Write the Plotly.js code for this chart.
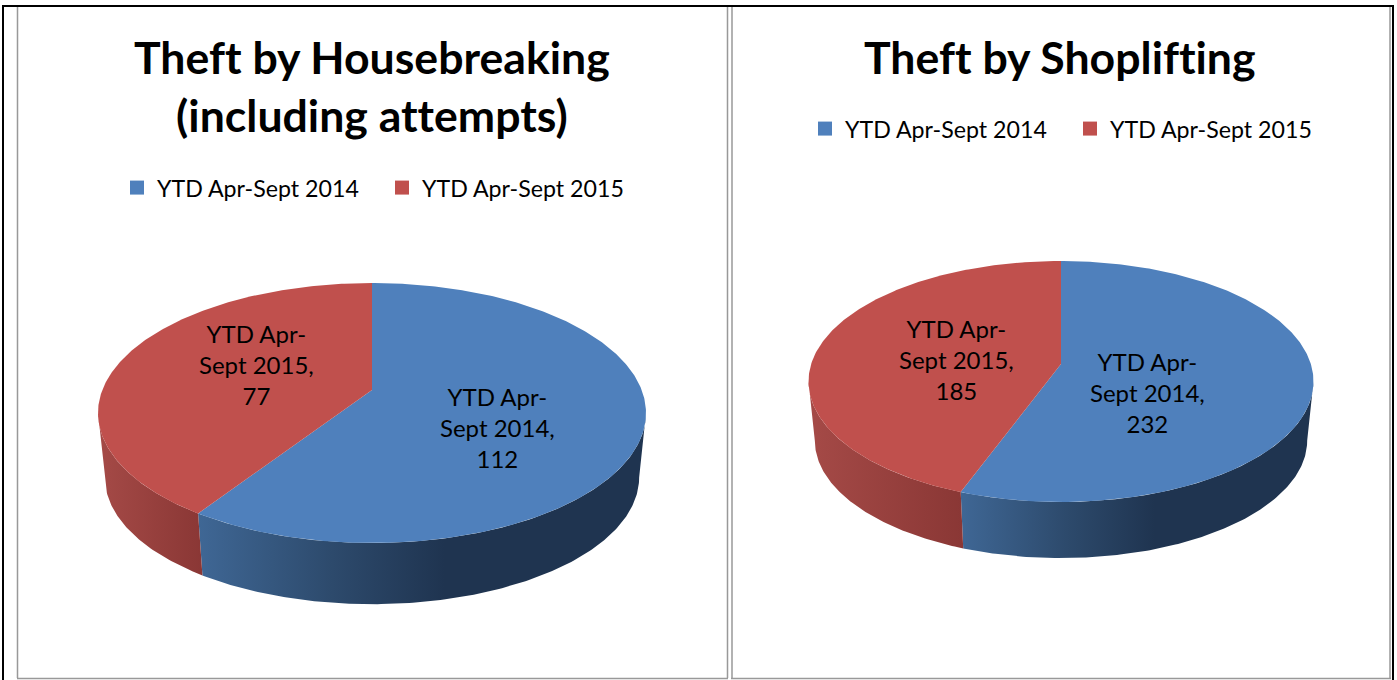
<!DOCTYPE html>
<html>
<head>
<meta charset="utf-8">
<script src="https://cdn.plot.ly/plotly-3.0.1.min.js"></script>
<style>html,body{margin:0;padding:0;background:#fff;overflow:hidden}
svg text{font-variant-ligatures:none !important}</style>
</head>
<body>
<div id="chart" style="width:1397px;height:680px"></div>
<script>
// ---- data ----
const categories = ['YTD Apr-Sept 2014', 'YTD Apr-Sept 2015'];
const housebreakingValues = [112, 77];
const shopliftingValues = [232, 185];
const housebreakingTitle = 'Theft by Housebreaking<br>(including attempts)';
const shopliftingTitle = 'Theft by Shoplifting';

// ---- colours ----
const topColors = ['#4F80BC', '#C0504D'];
const sideScales = [
  [[0, '#3F6795'], [0.3, '#2D4A6C'], [0.55, '#1F3450'], [1, '#1F3450']],
  [[0, '#A54A47'], [1, '#8A3735']]
];

// ---- geometry of each perspective pie (pixel-scale axes) ----
const pies = [
  {values: housebreakingValues, cx: 372, cy: 390, back: 107, front: 153, halfWidth: 274, depth: 65, shrink: 0.975},
  {values: shopliftingValues, cx: 1061, cy: 364, back: 103, front: 138, halfWidth: 252.5, depth: 59.5, shrink: 0.975}
];

function projector(p) {
  const k = (p.front / p.back - 1) / (p.front / p.back + 1);
  const A = p.back * (1 + k);
  const B = p.halfWidth * Math.sqrt(1 - k * k);
  return {
    k,
    at(t, lower) {
      const d = 1 + k * Math.cos(t), s = lower ? p.shrink : 1;
      return [p.cx + s * B * Math.sin(t) / d, p.cy + (lower ? p.depth : 0) - s * A * Math.cos(t) / d];
    }
  };
}
function arc(pr, t0, t1, lower) {
  const n = Math.max(2, Math.ceil(Math.abs(t1 - t0) * 90));
  const out = [];
  for (let i = 0; i <= n; i++) out.push(pr.at(t0 + (t1 - t0) * i / n, lower));
  return out;
}
function poly(points, extra) {
  return Object.assign({
    type: 'scatter', mode: 'lines', x: points.map(q => q[0]), y: points.map(q => q[1]),
    fill: 'toself', line: {width: 0}, showlegend: false, hoverinfo: 'skip'
  }, extra);
}

const traces = [];
pies.forEach(p => {
  const pr = projector(p);
  const total = p.values[0] + p.values[1];
  const tb = 2 * Math.PI * p.values[0] / total;
  const tr = Math.acos(-pr.k), tl = 2 * Math.PI - tr;
  // visible rim, widest point to slice boundary to widest point
  traces.push(poly(arc(pr, tr, tb).concat(arc(pr, tb, tr, true)), {fillgradient: {type: 'horizontal', colorscale: sideScales[0]}}));
  traces.push(poly(arc(pr, tb, tl).concat(arc(pr, tl, tb, true)), {fillgradient: {type: 'horizontal', colorscale: sideScales[1]}}));
  // top faces
  traces.push(poly([[p.cx, p.cy]].concat(arc(pr, 0, tb), [[p.cx, p.cy]]), {fillcolor: topColors[0]}));
  traces.push(poly([[p.cx, p.cy]].concat(arc(pr, tb, 2 * Math.PI), [[p.cx, p.cy]]), {fillcolor: topColors[1]}));
});

// legend entries
['legend', 'legend2'].forEach(lg => {
  categories.forEach((c, i) => traces.push({
    type: 'scatter', mode: 'markers', x: [null], y: [null], name: c, legend: lg,
    marker: {symbol: 'square', size: 14, color: topColors[i]}, hoverinfo: 'skip'
  }));
});

const FONT = 'Lato, "Open Sans", sans-serif';
function sliceLabel(i, v) {
  return categories[i].replace('Apr-Sept', 'Apr-<br>Sept') + ',<br>' + v;
}
function label(x, y, text) {
  return {x, y, xref: 'x', yref: 'y', text, showarrow: false, xanchor: 'center', yanchor: 'middle',
    align: 'center', font: {family: FONT, size: 24, color: '#000'}};
}
function title(x, y, text) {
  return {x, y, xref: 'x', yref: 'y', text, showarrow: false, xanchor: 'center', yanchor: 'middle',
    align: 'center', font: {family: FONT, size: 44.6, color: '#000', weight: 700}};
}
const annotations = [
  title(372, 85, housebreakingTitle),
  title(1060, 56, shopliftingTitle),
  label(497, 427, sliceLabel(0, housebreakingValues[0])),
  label(256, 364, sliceLabel(1, housebreakingValues[1])),
  label(1147, 392, sliceLabel(0, shopliftingValues[0])),
  label(956, 359, sliceLabel(1, shopliftingValues[1]))
];

function frame(x0, y0, x1, y1, color, width) {
  return {type: 'line', xref: 'x', yref: 'y', x0, y0, x1, y1, line: {color, width}};
}
const shapes = [
  frame(17.5, 7, 17.5, 678, '#999', 1.5),
  frame(727.5, 7, 727.5, 678, '#999', 1.5),
  frame(732, 7, 732, 678, '#999', 1.5),
  frame(1390, 7, 1390, 678, '#999', 1.5),
  frame(17, 678.5, 728, 678.5, '#999', 1.5),
  frame(731, 678.5, 1391, 678.5, '#999', 1.5),
  frame(3, 6, 1393, 6, '#000', 2),
  frame(3, 5, 3, 680, '#000', 2),
  frame(1393, 5, 1393, 680, '#000', 2)
];

function legendBox(xPx, yPx) {
  return {x: xPx / 1397, y: 1 - yPx / 680, xanchor: 'left', yanchor: 'middle', orientation: 'h',
    entrywidth: 220, entrywidthmode: 'pixels', bgcolor: 'rgba(0,0,0,0)', itemclick: false, itemdoubleclick: false,
    font: {family: FONT, size: 23.2, color: '#000'}};
}

const layout = {
  width: 1397, height: 680, margin: {l: 0, r: 0, t: 0, b: 0},
  paper_bgcolor: '#fff', plot_bgcolor: '#fff',
  xaxis: {range: [0, 1397], visible: false, fixedrange: true},
  yaxis: {range: [680, 0], visible: false, fixedrange: true},
  showlegend: true,
  legend: legendBox(117, 188),
  legend2: legendBox(805, 129),
  annotations, shapes, hovermode: false
};
Plotly.newPlot('chart', traces, layout, {displayModeBar: false, responsive: false, staticPlot: true});
</script>
</body>
</html>
